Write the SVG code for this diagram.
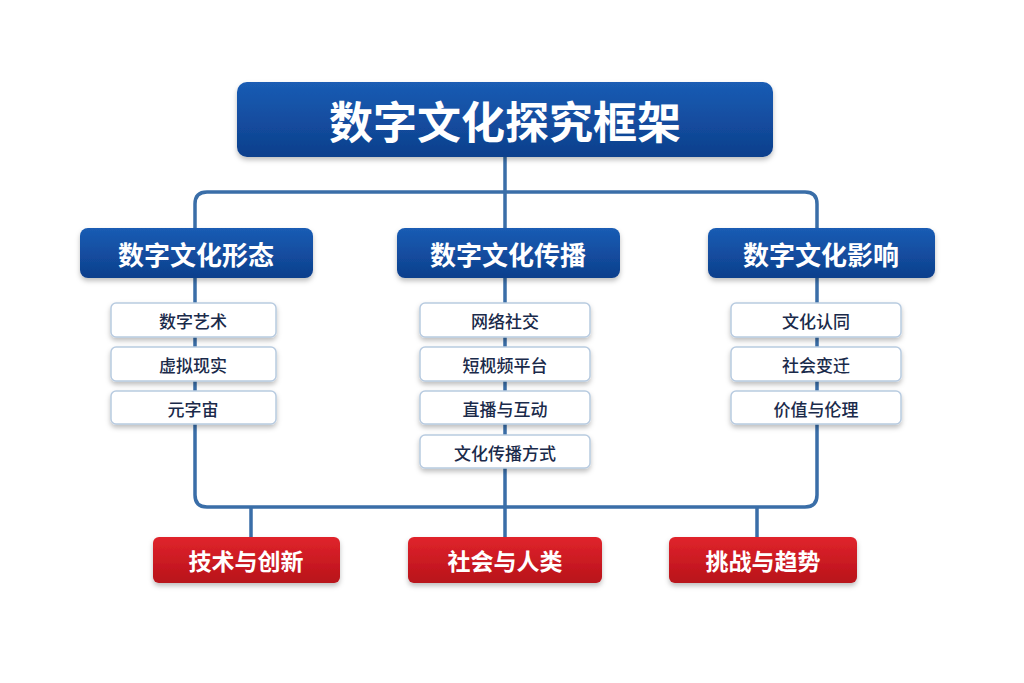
<svg xmlns="http://www.w3.org/2000/svg" width="1024" height="683" viewBox="0 0 1024 683">
<defs>
<linearGradient id="gb" x1="0" y1="0" x2="0" y2="1"><stop offset="0" stop-color="#1a5cb4"/><stop offset="1" stop-color="#0d3f8c"/></linearGradient>
<linearGradient id="gr" x1="0" y1="0" x2="0" y2="1"><stop offset="0" stop-color="#e0242c"/><stop offset="1" stop-color="#b8121a"/></linearGradient>
<filter id="sh" x="-10%" y="-20%" width="120%" height="150%"><feDropShadow dx="0" dy="3" stdDeviation="2.5" flood-color="#000" flood-opacity="0.25"/></filter>
<style>
text{font-family:"Noto Sans CJK SC","Noto Sans",sans-serif;text-anchor:middle;dominant-baseline:central}
.blue{fill:url(#gb);filter:url(#sh)}
.red{fill:url(#gr);filter:url(#sh)}
.sub{fill:#fff;stroke:#b8cbe0;stroke-width:1.5;filter:url(#sh)}
.w{fill:#fff;font-weight:bold}
.st{fill:#1a2a4a;font-size:17px;font-weight:500}
.ln{fill:none;stroke:#3a6ea8;stroke-width:3.5}
</style>
</defs>
<rect width="1024" height="683" fill="#fff"/>
<g id="connectors" class="ln">
<path d="M505 157V192M195 228V204Q195 192 207 192H805Q817 192 817 204V228M505 192V228"/>
<path d="M195 278V495Q195 507 207 507H805Q817 507 817 495V278M505 278V507"/>
<path d="M251 507V537M505 507V537M757 507V537"/>
</g>
<g id="title"><rect class="blue" x="237" y="82" width="536" height="75" rx="10"/><text class="w" x="505" y="120" font-size="44">数字文化探究框架</text></g>
<g id="cat1"><rect class="blue" x="80" y="228" width="233" height="50" rx="8"/><text class="w" x="196" y="253" font-size="26">数字文化形态</text></g>
<g id="cat2"><rect class="blue" x="397" y="228" width="223" height="50" rx="8"/><text class="w" x="508" y="253" font-size="26">数字文化传播</text></g>
<g id="cat3"><rect class="blue" x="708" y="228" width="227" height="50" rx="8"/><text class="w" x="821" y="253" font-size="26">数字文化影响</text></g>
<g id="s1a"><rect class="sub" x="111" y="303" width="165" height="34" rx="5"/><text class="st" x="193" y="320">数字艺术</text></g>
<g id="s1b"><rect class="sub" x="111" y="347" width="165" height="34" rx="5"/><text class="st" x="193" y="364">虚拟现实</text></g>
<g id="s1c"><rect class="sub" x="111" y="391" width="165" height="33" rx="5"/><text class="st" x="193" y="408">元字宙</text></g>
<g id="s2a"><rect class="sub" x="420" y="303" width="170" height="34" rx="5"/><text class="st" x="505" y="320">网络社交</text></g>
<g id="s2b"><rect class="sub" x="420" y="347" width="170" height="34" rx="5"/><text class="st" x="505" y="364">短枧频平台</text></g>
<g id="s2c"><rect class="sub" x="420" y="391" width="170" height="33" rx="5"/><text class="st" x="505" y="408">直播与互动</text></g>
<g id="s2d"><rect class="sub" x="420" y="435" width="170" height="33" rx="5"/><text class="st" x="505" y="452">文化传播方式</text></g>
<g id="s3a"><rect class="sub" x="731" y="303" width="170" height="34" rx="5"/><text class="st" x="816" y="320">文化认同</text></g>
<g id="s3b"><rect class="sub" x="731" y="347" width="170" height="34" rx="5"/><text class="st" x="816" y="364">社会变迁</text></g>
<g id="s3c"><rect class="sub" x="731" y="391" width="170" height="33" rx="5"/><text class="st" x="816" y="408">价值与伦理</text></g>
<g id="r1"><rect class="red" x="153" y="537" width="187" height="46" rx="6"/><text class="w" x="246" y="560" font-size="23">技术与创新</text></g>
<g id="r2"><rect class="red" x="408" y="537" width="194" height="46" rx="6"/><text class="w" x="505" y="560" font-size="23">社会与人类</text></g>
<g id="r3"><rect class="red" x="669" y="537" width="188" height="46" rx="6"/><text class="w" x="763" y="560" font-size="23">挑战与趋势</text></g>
</svg>
